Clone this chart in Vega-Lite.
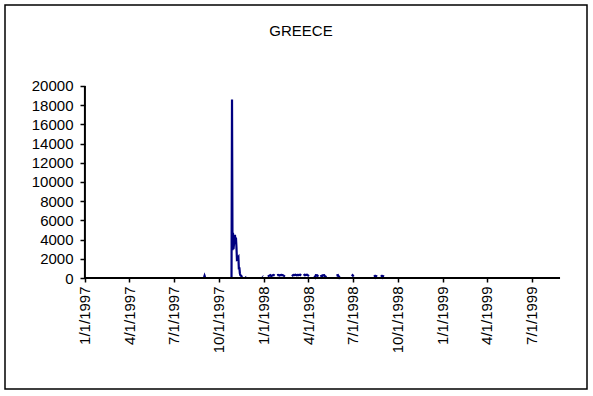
{
  "$schema": "https://vega.github.io/schema/vega-lite/v6.json",
  "autosize": {"type": "none"},
  "padding": {"left": 5, "top": 5, "right": 6, "bottom": 7},
  "width": 582,
  "height": 384,
  "background": "white",
  "title": {"text": "GREECE", "font": "Liberation Sans", "fontSize": 15, "fontWeight": "normal", "color": "black", "anchor": "middle", "frame": "group", "baseline": "alphabetic", "offset": -31, "dx": 5, "dy": 15},
  "config": {
    "view": {"stroke": "black", "strokeWidth": 1.5},
    "axis": {"grid": false, "labelFont": "Liberation Sans", "labelFontSize": 15, "labelColor": "black", "tickColor": "black", "domain": false}
  },
  "encoding": {
    "x": {
      "field": "date", "type": "temporal", "title": null,
      "scale": {"type": "utc", "domain": [{"year": 1996, "month": 7, "date": 22, "utc": true}, {"year": 1999, "month": 10, "date": 22, "utc": true}], "nice": false},
      "axis": {
        "offset": -111, "tickSize": 4, "tickWidth": 1.5, "labelAngle": -90, "labelPadding": 4, "labelAlign": "right", "labelBaseline": "middle",
        "labelExpr": "utcFormat(datum.value, '%-m/%-d/%Y')",
        "values": [
          {"year": 1997, "month": 1, "date": 1, "utc": true},
          {"year": 1997, "month": 4, "date": 1, "utc": true},
          {"year": 1997, "month": 7, "date": 1, "utc": true},
          {"year": 1997, "month": 10, "date": 1, "utc": true},
          {"year": 1998, "month": 1, "date": 1, "utc": true},
          {"year": 1998, "month": 4, "date": 1, "utc": true},
          {"year": 1998, "month": 7, "date": 1, "utc": true},
          {"year": 1998, "month": 10, "date": 1, "utc": true},
          {"year": 1999, "month": 1, "date": 1, "utc": true},
          {"year": 1999, "month": 4, "date": 1, "utc": true},
          {"year": 1999, "month": 7, "date": 1, "utc": true}
        ]
      }
    },
    "y": {
      "field": "value", "type": "quantitative", "title": null,
      "scale": {"domain": [-11562, 28437], "nice": false, "zero": false},
      "axis": {"offset": -80, "tickSize": 5, "tickWidth": 1.5, "labelPadding": 7, "format": "d", "values": [0, 2000, 4000, 6000, 8000, 10000, 12000, 14000, 16000, 18000, 20000]}
    }
  },
  "layer": [
    {
      "data": {"values": [
        {"date": "1997-08-29", "value": null},
        {"date": "1997-09-01", "value": 100},
        {"date": "1997-09-02", "value": 250},
        {"date": "1997-09-03", "value": 100},
        {"date": "1997-09-04", "value": null},
        {"date": "1997-10-27", "value": 0},
        {"date": "1997-10-28", "value": 18600},
        {"date": "1997-10-29", "value": 2900},
        {"date": "1997-10-30", "value": 4700},
        {"date": "1997-10-31", "value": 3000},
        {"date": "1997-11-03", "value": 4500},
        {"date": "1997-11-04", "value": 3800},
        {"date": "1997-11-05", "value": 4200},
        {"date": "1997-11-06", "value": 3300},
        {"date": "1997-11-07", "value": 2000},
        {"date": "1997-11-10", "value": 2200},
        {"date": "1997-11-11", "value": 900},
        {"date": "1997-11-12", "value": 1100},
        {"date": "1997-11-13", "value": 500},
        {"date": "1997-11-14", "value": 300},
        {"date": "1997-11-17", "value": 150},
        {"date": "1997-11-18", "value": 100},
        {"date": "1997-11-19", "value": null},
        {"date": "1997-11-24", "value": 150},
        {"date": "1997-11-25", "value": 100},
        {"date": "1997-11-26", "value": null},
        {"date": "1997-12-29", "value": 200},
        {"date": "1997-12-30", "value": 150},
        {"date": "1997-12-31", "value": null},
        {"date": "1998-01-09", "value": 150},
        {"date": "1998-01-12", "value": 250},
        {"date": "1998-01-14", "value": 300},
        {"date": "1998-01-16", "value": 200},
        {"date": "1998-01-19", "value": 280},
        {"date": "1998-01-21", "value": 320},
        {"date": "1998-01-23", "value": 250},
        {"date": "1998-01-26", "value": null},
        {"date": "1998-01-28", "value": 280},
        {"date": "1998-01-30", "value": 320},
        {"date": "1998-02-02", "value": 250},
        {"date": "1998-02-04", "value": 300},
        {"date": "1998-02-06", "value": 330},
        {"date": "1998-02-09", "value": 280},
        {"date": "1998-02-11", "value": 220},
        {"date": "1998-02-13", "value": 150},
        {"date": "1998-02-16", "value": null},
        {"date": "1998-02-27", "value": 200},
        {"date": "1998-03-02", "value": 320},
        {"date": "1998-03-04", "value": 300},
        {"date": "1998-03-06", "value": 350},
        {"date": "1998-03-09", "value": 280},
        {"date": "1998-03-11", "value": 330},
        {"date": "1998-03-13", "value": 300},
        {"date": "1998-03-16", "value": 350},
        {"date": "1998-03-18", "value": 250},
        {"date": "1998-03-20", "value": null},
        {"date": "1998-03-23", "value": 250},
        {"date": "1998-03-25", "value": 330},
        {"date": "1998-03-27", "value": 300},
        {"date": "1998-03-30", "value": 350},
        {"date": "1998-04-01", "value": 280},
        {"date": "1998-04-03", "value": 200},
        {"date": "1998-04-06", "value": null},
        {"date": "1998-04-14", "value": 250},
        {"date": "1998-04-16", "value": 100},
        {"date": "1998-04-17", "value": 300},
        {"date": "1998-04-20", "value": 280},
        {"date": "1998-04-22", "value": 150},
        {"date": "1998-04-24", "value": null},
        {"date": "1998-04-27", "value": 300},
        {"date": "1998-04-29", "value": 100},
        {"date": "1998-05-01", "value": 280},
        {"date": "1998-05-04", "value": 300},
        {"date": "1998-05-06", "value": 100},
        {"date": "1998-05-08", "value": 250},
        {"date": "1998-05-11", "value": null},
        {"date": "1998-05-29", "value": 250},
        {"date": "1998-06-01", "value": 300},
        {"date": "1998-06-03", "value": 100},
        {"date": "1998-06-04", "value": 250},
        {"date": "1998-06-05", "value": null},
        {"date": "1998-06-29", "value": 200},
        {"date": "1998-07-01", "value": 300},
        {"date": "1998-07-03", "value": 150},
        {"date": "1998-07-06", "value": null},
        {"date": "1998-08-14", "value": 300},
        {"date": "1998-08-17", "value": 80},
        {"date": "1998-08-19", "value": 300},
        {"date": "1998-08-21", "value": null},
        {"date": "1998-08-28", "value": 300},
        {"date": "1998-08-31", "value": 80},
        {"date": "1998-09-02", "value": 300},
        {"date": "1998-09-04", "value": null}
      ]},
      "mark": {"type": "line", "color": "#000080", "strokeWidth": 2.2, "invalid": "break-paths-show-domains"}
    },
    {
      "data": {"values": [
        {"date": "1997-01-01", "date2": "1999-08-28", "value": 0, "value2": 0},
        {"date": "1997-01-01", "date2": "1997-01-01", "value": 0, "value2": 20000}
      ]},
      "mark": {"type": "rule", "color": "black", "strokeWidth": 2},
      "encoding": {
        "x2": {"field": "date2"},
        "y2": {"field": "value2"}
      }
    }
  ]
}
